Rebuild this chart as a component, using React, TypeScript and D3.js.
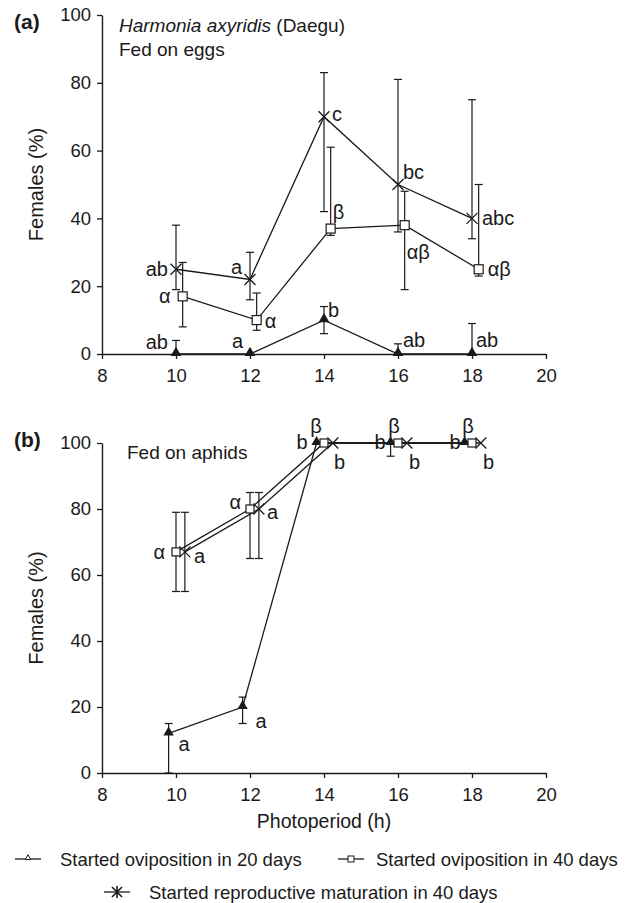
import React, { useEffect, useRef } from 'react';
import * as d3 from 'd3';

// photoperiods (h)
const photoperiod = [10, 12, 14, 16, 18];
const xTicks = [8, 10, 12, 14, 16, 18, 20];
const yTicks = [0, 20, 40, 60, 80, 100];

// (a) fed on eggs
const eggsOvi20 = [0, 0, 10, 0, 0];
const eggsOvi20Low = [0, 0, 6, 0, 0];
const eggsOvi20High = [4, 0, 14, 3, 9];
const eggsOvi20Letters = ['ab', 'a', 'b', 'ab', 'ab'];

const eggsOvi40 = [17, 10, 37, 38, 25];
const eggsOvi40Low = [8, 7, 35, 19, 23];
const eggsOvi40High = [27, 18, 61, 48, 50];
const eggsOvi40Letters = ['α', 'α', 'β', 'αβ', 'αβ'];

const eggsMat40 = [25, 22, 70, 50, 40];
const eggsMat40Low = [19, 16, 42, 36, 34];
const eggsMat40High = [38, 30, 83, 81, 75];
const eggsMat40Letters = ['ab', 'a', 'c', 'bc', 'abc'];

// (b) fed on aphids
const aphOvi20 = [12, 20, 100, 100, 100];
const aphOvi20Low = [0, 15, 100, 96, 100];
const aphOvi20High = [15, 23, 100, 100, 100];
const aphOvi20Letters = ['a', 'a', 'b', 'b', 'b'];

const aphOvi40 = [67, 80, 100, 100, 100];
const aphOvi40Low = [55, 65, 100, 100, 100];
const aphOvi40High = [79, 85, 100, 100, 100];
const aphOvi40Letters = ['α', 'α', 'β', 'β', 'β'];

const aphMat40 = [67, 80, 100, 100, 100];
const aphMat40Low = [55, 65, 100, 100, 100];
const aphMat40High = [79, 85, 100, 100, 100];
const aphMat40Letters = ['a', 'a', 'b', 'b', 'b'];

const legendLabels = [
  'Started oviposition in 20 days',
  'Started oviposition in 40 days',
  'Started reproductive maturation in 40 days',
];

const FONT = '"Liberation Sans", Arial, Helvetica, sans-serif';
const INK = '#1a1a1a';

export default function App() {
  const ref = useRef(null);

  useEffect(() => {
    const svg = d3.select(ref.current);
    svg.selectAll('*').remove();

    const x = d3.scaleLinear().domain([8, 20]).range([102, 546]);

    // build series for each panel
    const mk = (vals, lo, hi, letters, shift, marker, pos) =>
      vals.map((v, i) => ({
        h: photoperiod[i] + shift, v, lo: lo[i], hi: hi[i], letter: letters[i],
        marker, dx: pos[i][0], dy: pos[i][1], anchor: pos[i][2],
      }));

    const panels = [
      {
        y: d3.scaleLinear().domain([0, 100]).range([354, 15]),
        tag: '(a)', tagY: 29,
        series: [
          mk(eggsOvi20, eggsOvi20Low, eggsOvi20High, eggsOvi20Letters, 0, 'tri',
            [[-8, -5, 'end'], [-7, -6, 'end'], [4, -3, 'start'], [5, -7, 'start'], [4, -7, 'start']]),
          mk(eggsOvi40, eggsOvi40Low, eggsOvi40High, eggsOvi40Letters, 0.18, 'sq',
            [[-12, 7, 'end'], [8, 8, 'start'], [2, -10, 'start'], [2, 34, 'start'], [9, 7, 'start']]),
          mk(eggsMat40, eggsMat40Low, eggsMat40High, eggsMat40Letters, 0, 'x',
            [[-8, 7, 'end'], [-8, -5, 'end'], [8, 4, 'start'], [5, -6, 'start'], [10, 7, 'start']]),
        ],
      },
      {
        y: d3.scaleLinear().domain([0, 100]).range([773, 443]),
        tag: '(b)', tagY: 447,
        series: [
          mk(aphOvi20, aphOvi20Low, aphOvi20High, aphOvi20Letters, -0.2, 'tri',
            [[10, 18, 'start'], [13, 21, 'start'], [-9, 6, 'end'], [-5, 6, 'end'], [-4, 6, 'end']]),
          mk(aphOvi40, aphOvi40Low, aphOvi40High, aphOvi40Letters, 0, 'sq',
            [[-11, 7, 'end'], [-9, 0, 'end'], [-8, -10, 'middle'], [-4, -10, 'middle'], [-4, -10, 'middle']]),
          mk(aphMat40, aphMat40Low, aphMat40High, aphMat40Letters, 0.24, 'x',
            [[9, 11, 'start'], [8, 10, 'start'], [1, 26, 'start'], [2, 26, 'start'], [2, 26, 'start']]),
        ],
      },
    ];

    panels.forEach((p, pi) => {
      const g = svg.append('g');
      const y = p.y;

      // axes
      const ax = g.append('g')
        .attr('transform', `translate(0,${y(0)})`)
        .call(d3.axisBottom(x).tickValues(xTicks).tickSize(5).tickSizeOuter(0).tickPadding(10).tickFormat(d3.format('d')));
      const ay = g.append('g')
        .attr('transform', `translate(${x(8)},0)`)
        .call(d3.axisLeft(y).tickValues(yTicks).tickSize(5).tickSizeOuter(0).tickPadding(6));
      [ax, ay].forEach(a => {
        a.attr('font-family', FONT).attr('font-size', 18.5);
        a.select('.domain').attr('stroke', INK).attr('stroke-width', 1.4);
        a.selectAll('.tick line').attr('stroke', INK).attr('stroke-width', 1.3);
        a.selectAll('.tick text').attr('fill', INK);
      });

      g.append('text')
        .attr('transform', `translate(43,${(y(0) + y(100)) / 2}) rotate(-90)`)
        .attr('text-anchor', 'middle')
        .attr('font-family', FONT).attr('font-size', 20).attr('fill', INK)
        .text('Females (%)');

      g.append('text')
        .attr('x', 14).attr('y', p.tagY)
        .attr('font-family', FONT).attr('font-size', 21).attr('font-weight', 'bold').attr('fill', INK)
        .text(p.tag);

      const line = d3.line().x(d => x(d.h)).y(d => y(d.v));

      p.series.forEach(s => {
        g.append('path')
          .attr('d', line(s))
          .attr('fill', 'none').attr('stroke', INK).attr('stroke-width', 1.3);

        // error bars
        const eb = g.append('g').attr('stroke', INK).attr('stroke-width', 1.2);
        s.filter(d => d.hi > d.lo).forEach(d => {
          eb.append('line').attr('x1', x(d.h)).attr('x2', x(d.h)).attr('y1', y(d.lo)).attr('y2', y(d.hi));
          [d.lo, d.hi].forEach(e => {
            eb.append('line').attr('x1', x(d.h) - 4).attr('x2', x(d.h) + 4).attr('y1', y(e)).attr('y2', y(e));
          });
        });
      });

      p.series.forEach(s => {
        s.forEach(d => {
          const cx = x(d.h), cy = y(d.v);
          if (d.marker === 'tri') {
            g.append('path')
              .attr('d', d3.symbol(d3.symbolTriangle, pi === 0 ? 50 : 46)())
              .attr('transform', `translate(${cx},${cy - 1})`)
              .attr('fill', INK);
          } else if (d.marker === 'sq') {
            const s2 = pi === 0 ? 4.5 : 4;
            g.append('rect')
              .attr('x', cx - s2).attr('y', cy - s2).attr('width', s2 * 2).attr('height', s2 * 2)
              .attr('fill', 'white').attr('stroke', INK).attr('stroke-width', 1.2);
          } else {
            const r = 5.5;
            g.append('path')
              .attr('d', `M${cx - r},${cy - r}L${cx + r},${cy + r}M${cx - r},${cy + r}L${cx + r},${cy - r}`)
              .attr('stroke', INK).attr('stroke-width', 1.3).attr('fill', 'none');
          }
          g.append('text')
            .attr('x', cx + d.dx).attr('y', cy + d.dy)
            .attr('text-anchor', d.anchor)
            .attr('font-family', FONT).attr('font-size', 20).attr('fill', INK)
            .text(d.letter);
        });
      });
    });

    // panel annotations
    const t1 = svg.append('text').attr('x', 119).attr('y', 32)
      .attr('font-family', FONT).attr('font-size', 19).attr('fill', INK);
    t1.append('tspan').attr('font-style', 'italic').text('Harmonia axyridis');
    t1.append('tspan').text(' (Daegu)');
    svg.append('text').attr('x', 119).attr('y', 56)
      .attr('font-family', FONT).attr('font-size', 19).attr('fill', INK).text('Fed on eggs');
    svg.append('text').attr('x', 127).attr('y', 459)
      .attr('font-family', FONT).attr('font-size', 19).attr('fill', INK).text('Fed on aphids');

    svg.append('text').attr('x', (x(8) + x(20)) / 2).attr('y', 828)
      .attr('text-anchor', 'middle')
      .attr('font-family', FONT).attr('font-size', 19.5).attr('fill', INK)
      .text('Photoperiod (h)');

    // legend
    const legendItems = [
      { x0: 15, y0: 859, tx: 60, marker: 'tri' },
      { x0: 338, y0: 859, tx: 376, marker: 'sq' },
      { x0: 104, y0: 892, tx: 149, marker: 'star' },
    ];
    legendItems.forEach((it, i) => {
      const lg = svg.append('g').attr('stroke', INK).attr('fill', 'none').attr('stroke-width', 1.3);
      lg.append('line').attr('x1', it.x0).attr('x2', it.x0 + 26).attr('y1', it.y0).attr('y2', it.y0);
      const cx = it.x0 + 13;
      if (it.marker === 'tri') {
        lg.append('path').attr('d', d3.symbol(d3.symbolTriangle, 14)())
          .attr('transform', `translate(${cx},${it.y0 - 1})`).attr('fill', 'white').attr('stroke-width', 1);
      } else if (it.marker === 'sq') {
        lg.append('rect').attr('x', cx - 3).attr('y', it.y0 - 3).attr('width', 6).attr('height', 6)
          .attr('fill', 'white').attr('stroke-width', 1);
      } else {
        const r = 5;
        lg.append('path').attr('stroke-width', 1.6)
          .attr('d', `M${cx},${it.y0 - r - 1}L${cx},${it.y0 + r + 1}M${cx - r},${it.y0 - r}L${cx + r},${it.y0 + r}M${cx - r},${it.y0 + r}L${cx + r},${it.y0 - r}`);
      }
      svg.append('text').attr('x', it.tx).attr('y', it.y0 + 6.5)
        .attr('font-family', FONT).attr('font-size', 18.5).attr('fill', INK)
        .text(legendLabels[i]);
    });
  }, []);

  return (
    <svg ref={ref} width={630} height={903}
      style={{ position: 'absolute', left: 0, top: 0, background: 'white' }} />
  );
}
